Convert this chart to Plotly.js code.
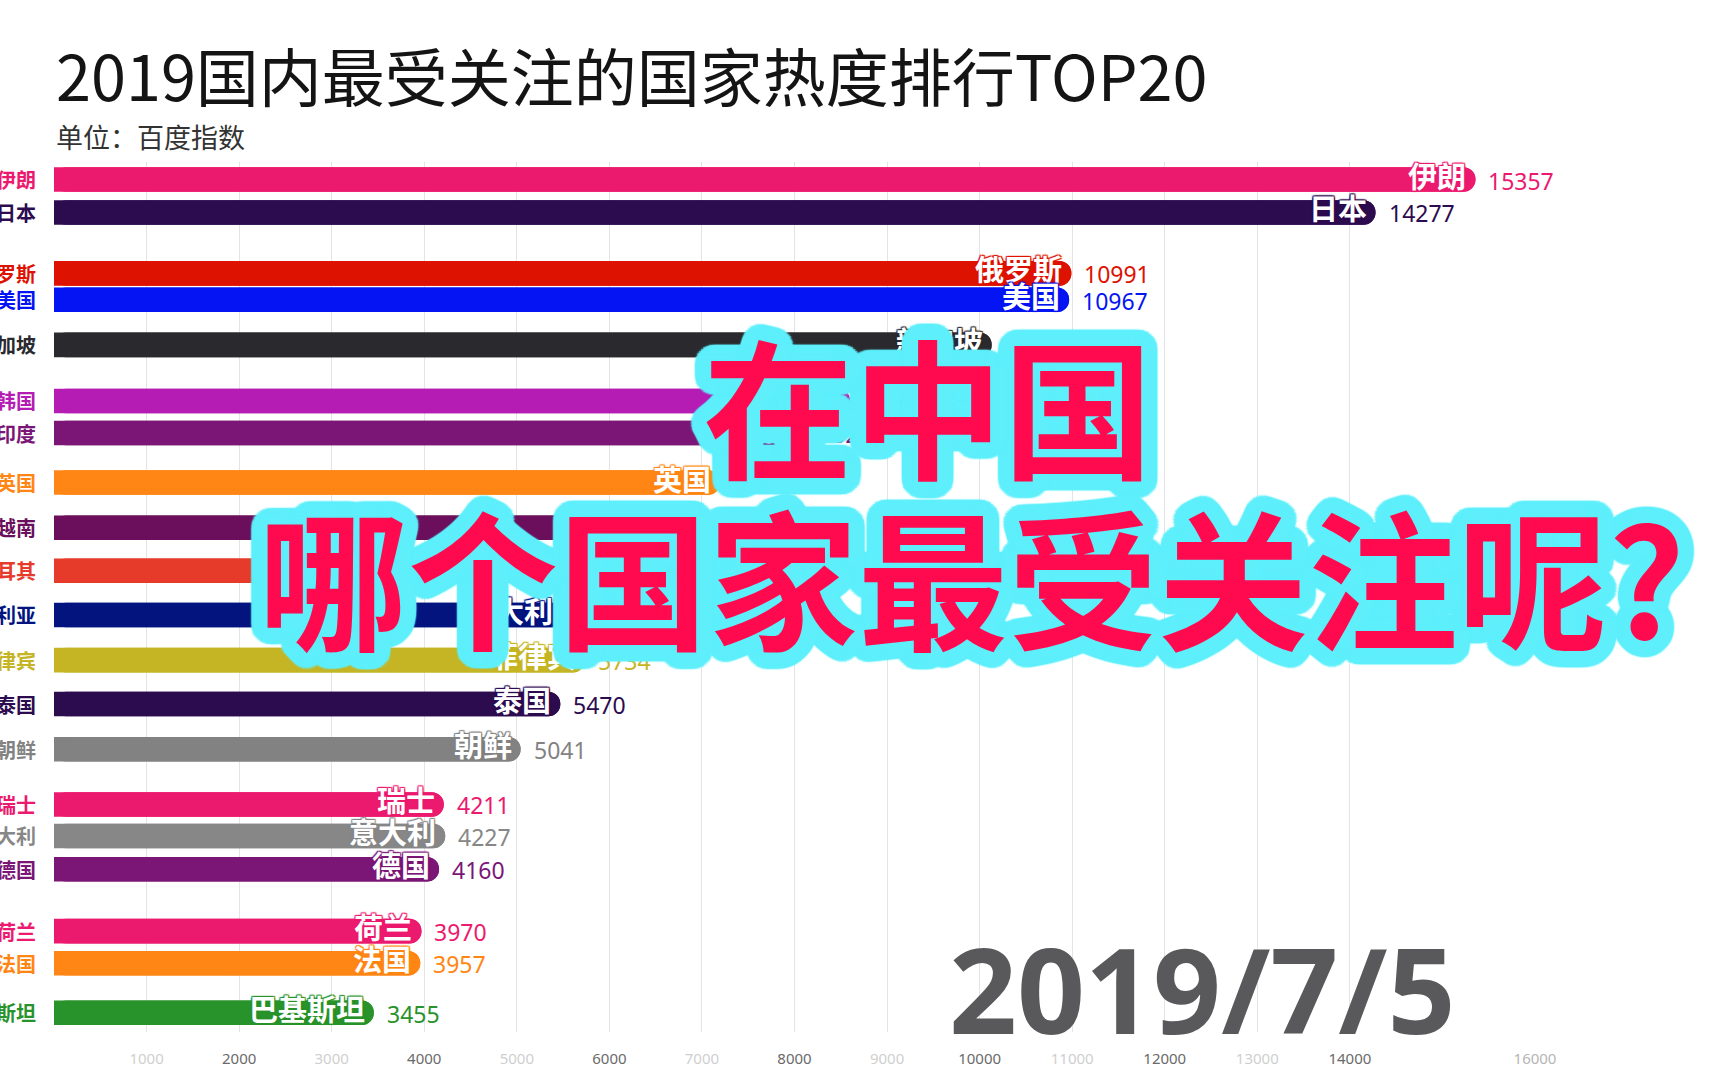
<!DOCTYPE html>
<html>
<head>
<meta charset="utf-8">
<script src="https://cdn.plot.ly/plotly-3.0.1.min.js"></script>
<style>
  html, body { margin: 0; padding: 0; background: #fff; }
  #chart { width: 1728px; height: 1080px; }
</style>
</head>
<body>
<div id="chart"></div>
<script>
// ---- data ----
const countries = ['伊朗','日本','俄罗斯','美国','新加坡','韩国','印度','英国','越南','土耳其','澳大利亚','菲律宾','泰国','朝鲜','瑞士','意大利','德国','荷兰','法国','巴基斯坦'];
const values = [15357,14277,10991,10967,10130,8600,8260,7198,6700,6300,5800,5734,5470,5041,4211,4227,4160,3970,3957,3455];
// interpolated rank of each bar in this animation frame
const ranks = [1.00,1.75,3.14,3.74,4.77,6.05,6.78,7.91,8.94,9.92,10.93,11.96,12.96,13.99,15.25,15.97,16.73,18.14,18.87,20.00];
const colors = ['#EC1A6E','#2D0B4F','#DE1200','#0514F2','#2A2A2E','#B41CB4','#7B1676','#FF8614','#6B0F5C','#E63B2B','#03147F','#C5B524','#2D0B4F','#828282','#EC1A6E','#878787','#7B1676','#EC1A6E','#FF8614','#28922B'];
const tickVals = [0,1000,2000,3000,4000,5000,6000,7000,8000,9000,10000,11000,12000,13000,14000,16000];
const tickLabels = ['','1000','2000','3000','4000','5000','6000','7000','8000','9000','10000','11000','12000','13000','14000','16000'];

const titleText = '2019国内最受关注的国家热度排行TOP20';
const subtitleText = '单位：百度指数';
const dateText = '2019/7/5';
const overlayLine1 = '在中国';
const overlayLine2 = '哪个国家最受关注呢?';

// ---- layout helpers (pixel -> paper) ----
const L = 54, R = 1535, T = 162, B = 1032;
const px = x => (x - L) / (R - L);
const py = y => (B - y) / (B - T);

function ringShadow(color, radii, n, blur) {
  const parts = [];
  radii.forEach(r => {
    for (let i = 0; i < n; i++) {
      const a = 2 * Math.PI * i / n;
      parts.push(`${(r * Math.cos(a)).toFixed(1)}px ${(r * Math.sin(a)).toFixed(1)}px ${blur}px ${color}`);
    }
  });
  return parts.join(', ');
}
const cyanOutline = ringShadow('#5EEFFB', [16, 13, 10, 7, 4], 36, 1.5);

const tickText = tickLabels.map((t, i) => {
  const v = tickVals[i];
  let c = (v % 2000 === 0) ? '#6a6a6a' : '#cfcfcf';
  if (v === 16000) c = '#b5b5b5';
  return `<span style="color:${c}">${t}</span>`;
});

// ---- traces: two overlaid bars so both ends get rounded ----
const barRight = {
  type: 'bar', orientation: 'h',
  y: ranks, x: values,
  width: 0.56,
  marker: { color: colors, cornerradius: '50%', line: { width: 0 } },
  hoverinfo: 'skip'
};
const barLeft = {
  type: 'bar', orientation: 'h',
  y: ranks, x: values.map(v => -v), base: values,
  width: 0.56,
  marker: { color: colors, cornerradius: '50%', line: { width: 0 } },
  hoverinfo: 'skip'
};

const annotations = [];
// left axis labels
countries.forEach((c, i) => {
  annotations.push({
    xref: 'paper', yref: 'y', x: 0, y: ranks[i], xshift: -16, yshift: 0,
    xanchor: 'right', yanchor: 'middle', showarrow: false,
    text: c, font: { family: 'Noto Sans CJK SC', size: 20, weight: 700, color: colors[i] }
  });
});
// name labels inside bar ends
countries.forEach((c, i) => {
  const col = colors[i];
  annotations.push({
    xref: 'x', yref: 'y', x: values[i], y: ranks[i], xshift: -7, yshift: 5,
    xanchor: 'right', yanchor: 'middle', showarrow: false,
    text: c,
    font: { family: 'Noto Sans CJK SC', size: 29, weight: 700, color: '#ffffff',
            shadow: `1px 1px 1px ${col}, -1px -1px 1px ${col}, 1px -1px 1px ${col}, -1px 1px 1px ${col}` }
  });
});
// value labels
countries.forEach((c, i) => {
  annotations.push({
    xref: 'x', yref: 'y', x: values[i], y: ranks[i], xshift: 11, yshift: -1,
    xanchor: 'left', yanchor: 'middle', showarrow: false,
    text: String(values[i]),
    font: { family: 'Noto Sans', size: 23, color: colors[i] }
  });
});
// title, subtitle, date
annotations.push({
  xref: 'paper', yref: 'paper', x: 0, y: py(74), xanchor: 'left', yanchor: 'middle',
  showarrow: false, text: titleText,
  font: { family: 'Noto Sans CJK SC', size: 63, weight: 400, color: '#141414' }
});
annotations.push({
  xref: 'paper', yref: 'paper', x: 0, y: py(137), xanchor: 'left', yanchor: 'middle',
  showarrow: false, text: subtitleText,
  font: { family: 'Noto Sans CJK SC', size: 27, weight: 400, color: '#333333' }
});
annotations.push({
  xref: 'paper', yref: 'paper', x: px(1202), y: py(988), xanchor: 'center', yanchor: 'middle',
  showarrow: false, text: dateText,
  font: { family: 'Open Sans', size: 119, weight: 700, color: '#59585B' }
});
// overlay headline
annotations.push({
  xref: 'paper', yref: 'paper', x: px(928), y: py(402), xanchor: 'center', yanchor: 'middle',
  showarrow: false, text: overlayLine1,
  font: { family: 'Noto Sans CJK SC', size: 150, weight: 700, color: '#FF0A4E', shadow: cyanOutline }
});
annotations.push({
  xref: 'paper', yref: 'paper', x: px(971), y: py(573), xanchor: 'center', yanchor: 'middle',
  showarrow: false, text: overlayLine2,
  font: { family: 'Noto Sans CJK SC', size: 150, weight: 700, color: '#FF0A4E', shadow: cyanOutline }
});

const layout = {
  width: 1728, height: 1080,
  margin: { l: L, r: 1728 - R, t: T, b: 1080 - B, pad: 0 },
  paper_bgcolor: '#ffffff', plot_bgcolor: '#ffffff',
  barmode: 'overlay',
  showlegend: false,
  xaxis: {
    range: [0, 16000], tickmode: 'array', tickvals: tickVals, ticktext: tickText,
    showgrid: true, gridcolor: '#e4e4e4', gridwidth: 1, zeroline: false, showline: false,
    ticks: '', ticklabelstandoff: 16,
    tickfont: { family: 'Noto Sans', size: 15, color: '#6a6a6a' }
  },
  yaxis: {
    range: [20.44, 0.60], showgrid: false, zeroline: false, showline: false,
    showticklabels: false, ticks: ''
  },
  annotations: annotations
};

Plotly.newPlot('chart', [barRight, barLeft], layout, { staticPlot: true, displayModeBar: false });
</script>
</body>
</html>
